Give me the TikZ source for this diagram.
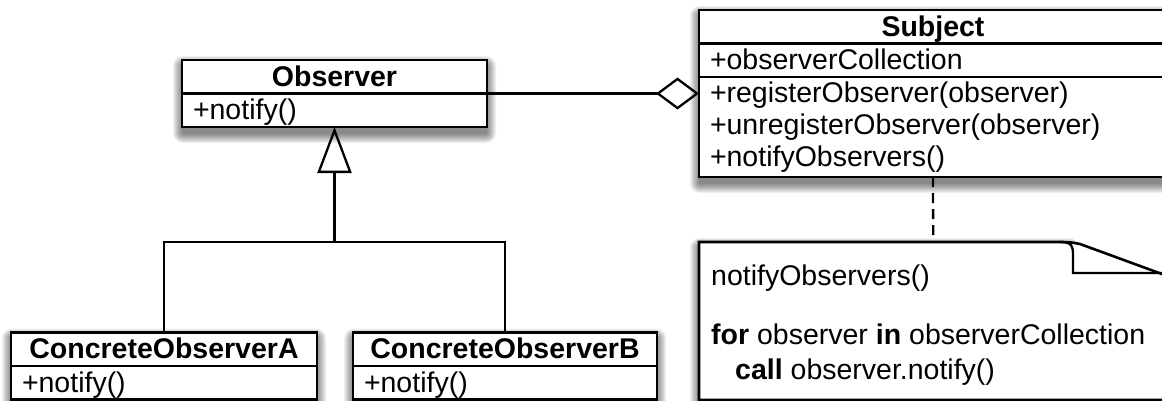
\documentclass[tikz,border=0pt]{standalone}
\usepackage{fontspec}
\setmainfont{Liberation Sans}
\usetikzlibrary{arrows.meta,backgrounds}

\begin{document}
\begin{tikzpicture}[x=1pt, y=-1pt,
    umlpart/.style={draw, fill=white, line width=2.6pt, inner xsep=11pt, inner ysep=0pt, outer sep=0pt, text width=#1},
    classhead/.style={umlpart=#1, align=center, font={\fontsize{28.5}{32}\selectfont\bfseries}, text height=26pt, text depth=7.5pt},
    classrow/.style={umlpart=#1, align=left, font={\fontsize{28.5}{32}\selectfont}, text height=26pt, text depth=7.5pt},
    classops/.style={umlpart=#1, align=left, font={\fontsize{28.5}{32}\selectfont}, minimum height=100pt},
    shade/.style={fill=black, opacity=0.06, rounded corners=#1*1pt},
    link/.style={line width=2.3pt},
    inherit/.style={link, -{Triangle[open, length=46pt, width=34pt]}},
    aggregate/.style={link, -{Diamond[open, length=43pt, width=32pt]}},
    notelink/.style={link, dash pattern=on 10pt off 6pt}]
            \useasboundingbox (0,0) rectangle (1162,400);

            % Observer
            \node[classhead=283pt, anchor=north west] (obs) at (182,60) {Observer};
            \node[classrow=283pt, anchor=north] (obsops) at (obs.south) {+notify()};

            % Concrete observers
            \node[classhead=284pt, anchor=north west] (ca) at (11,332.5) {ConcreteObserverA};
            \node[classrow=284pt, anchor=north] (caops) at (ca.south) {+notify()};
            \node[classhead=282pt, anchor=north west] (cb) at (353,332.5) {ConcreteObserverB};
            \node[classrow=282pt, anchor=north] (cbops) at (cb.south) {+notify()};

            % Subject
            \node[classhead=446pt, anchor=north west] (subj) at (699,10) {Subject};
            \node[classrow=446pt, anchor=north] (subjattr) at (subj.south) {+observerCollection};
            \node[classops=446pt, anchor=north] (subjops) at (subjattr.south)
                {+registerObserver(observer)\\+unregisterObserver(observer)\\+notifyObservers()};

            % Note
            \node[minimum width=468pt, minimum height=157.5pt, inner sep=0pt, anchor=north west] (note) at (699,242) {};

            % Shadows
            \begin{scope}[on background layer]
                \foreach \upper/\lower in {obs/obsops, ca/caops, cb/cbops, subj/subjops, note/note}
                    \foreach \r in {1,...,10}
                        \fill[shade=\r]
                            ([xshift={(1-\r)*1pt}, yshift={(\r-6)*1pt}]\upper.north west) rectangle
                            ([xshift={(\r-1)*1pt}, yshift={(-6-\r)*1pt}]\lower.south east);
                % no shadow over the folded corner
                \fill[white] (1064,230) -- (note.east |- 0,230) -- (note.east |- 0,278) -- (1080,246) -- cycle;
            \end{scope}

            \draw[line width=2.6pt, fill=white]
                (note.south west) -- (note.north west) -- (1060,242)
                .. controls (1068,242) and (1073,242.5) .. (1080,244) --
                (note.east |- 0,276) -- (note.south east) -- cycle;
            \draw[line width=2.3pt]
                (1060,242) .. controls (1072,242) and (1073,246) .. (1073,256) --
                (1073,273) -- (note.east |- 0,273);
            \node[anchor=north west, inner sep=0pt, align=left, font={\fontsize{28.5}{35}\selectfont}] (memo)
                at ([xshift=12pt, yshift=-22.5pt]note.north west)
                {notifyObservers()\\[24pt]\textbf{for} observer \textbf{in} observerCollection\\\hspace*{24pt}\textbf{call} observer.notify()};

            % Connectors
            \draw[aggregate] (obsops.north east) -- (obsops.north east -| subjops.west);
            \coordinate (fork) at (obsops.south |- 0,242);
            \draw[link] (ca.north) |- (fork) -| (cb.north);
            \draw[inherit] (fork) -- (obsops.south);
            \draw[notelink] (subjops.south) -- (note.north);

        \end{tikzpicture}
\end{document}
